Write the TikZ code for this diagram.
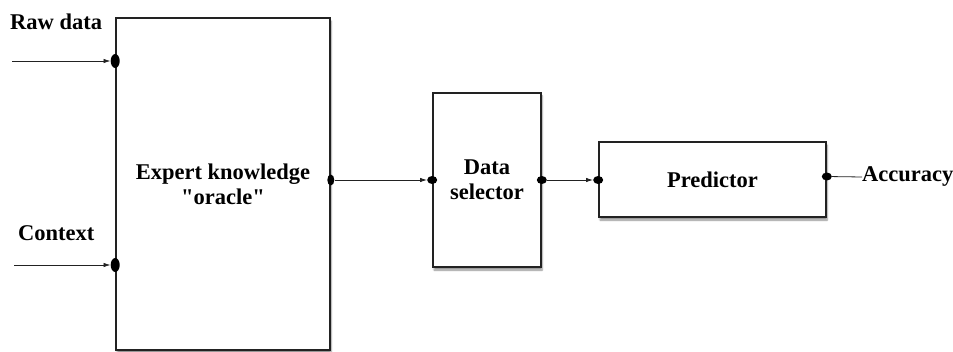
\documentclass[tikz,border=0pt]{standalone}
\usepackage{fontspec}
\setmainfont{Liberation Serif}
\usetikzlibrary{arrows.meta,shapes.geometric,shadows.blur}
\definecolor{ink}{HTML}{222222}

\begin{document}
\begin{tikzpicture}[
  x=1pt,y=1pt,font=\bfseries\fontsize{22.5}{25}\selectfont,
  block/.style={draw=ink,line width=1.6pt,fill=white,align=center,inner sep=2pt,
    blur shadow={shadow xshift=1pt,shadow yshift=-3pt,shadow opacity=45,shadow blur steps=6}},
  port/.style={ellipse,fill=black,inner sep=0pt,minimum width=8pt,minimum height=10pt},
  bigport/.style={port,minimum width=9pt,minimum height=14pt},
  flow/.style={draw=ink,line width=.8pt,-{Latex[length=7pt,width=4.5pt]}},
  tag/.style={anchor=west,inner sep=0pt}
]
\path[use as bounding box] (0,0) rectangle (953,-352);
\node[block,minimum width=214pt,minimum height=332pt] (oracle) at (223,-184)
  {Expert knowledge\\\textquotedbl oracle\textquotedbl};
\node[block,minimum width=108pt,minimum height=174pt] (selector) at (487,-180)
  {Data\\selector};
\node[block,minimum width=227pt,minimum height=75pt] (predictor) at (712.5,-179.5)
  {Predictor};

\node[tag] (raw) at (10,-22) {Raw data};
\node[tag] (context) at (18,-233) {Context};
\node[tag] (accuracy) at (862,-177) {Accuracy};
\coordinate (rawin) at (12,-61);
\coordinate (ctxin) at (14,-265);

\node[bigport] (rawport) at (oracle.west |- rawin) {};
\node[bigport] (ctxport) at (oracle.west |- ctxin) {};
\node[port,minimum width=7pt,minimum height=11pt] (oracleout) at (oracle.east |- selector.west) {};
\node[port,minimum width=10pt,minimum height=8pt] (selin) at (selector.west) {};
\node[port,minimum width=10pt,minimum height=8pt] (selout) at (selector.east) {};
\node[port,minimum width=10pt,minimum height=8pt] (predin) at (predictor.west |- selector.east) {};
\node[port,minimum width=10pt,minimum height=8pt] (predout) at ([yshift=3pt]predictor.east) {};

\draw[flow] (rawin) -- (rawport.west);
\draw[flow] (ctxin) -- (ctxport.west);
\draw[flow] (oracleout) -- (selin.west);
\draw[flow] (selout) -- (predin.west);
\draw[draw=ink,line width=.8pt] (predout) -- (accuracy.west);
\end{tikzpicture}
\end{document}
